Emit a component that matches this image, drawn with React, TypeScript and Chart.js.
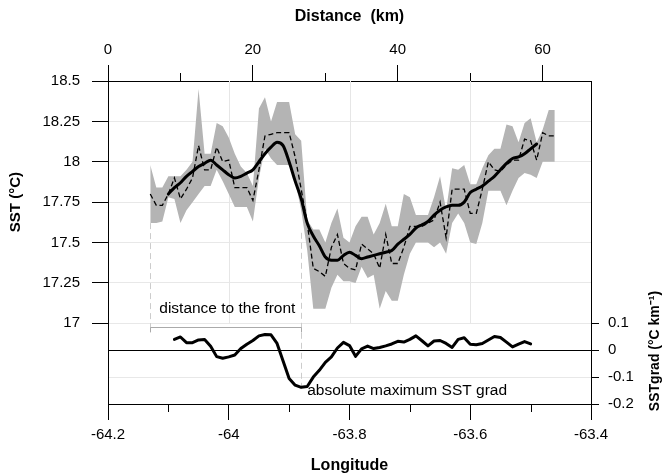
import React, { useEffect, useRef } from 'react';
import { Chart, registerables } from 'chart.js';
Chart.register(...registerables);

// Longitude of each sample
const LON = [
  -64.13, -64.12, -64.11, -64.10, -64.09, -64.08, -64.07, -64.06, -64.05, -64.04,
  -64.03, -64.02, -64.01, -64.00, -63.99, -63.98, -63.97, -63.96, -63.95, -63.94,
  -63.93, -63.92, -63.91, -63.90, -63.89, -63.88, -63.87, -63.86, -63.85, -63.84,
  -63.83, -63.82, -63.81, -63.80, -63.79, -63.78, -63.77, -63.76, -63.75, -63.74,
  -63.73, -63.72, -63.71, -63.70, -63.69, -63.68, -63.67, -63.66, -63.65, -63.64,
  -63.63, -63.62, -63.61, -63.60, -63.59, -63.58, -63.57, -63.56, -63.55, -63.54,
  -63.53, -63.52, -63.51, -63.50, -63.49, -63.48, -63.47, -63.46,
];

// SST mean (dashed line)
const SST_MEAN = [
  17.80, 17.73, 17.73, 17.80, 17.90, 17.77, 17.83, 17.90, 18.10, 17.95,
  17.95, 18.09, 18.00, 18.01, 17.84, 17.84, 17.84, 17.76, 17.95, 18.16,
  18.17, 18.18, 18.18, 18.18, 18.03, 17.83, 17.62, 17.34, 17.32, 17.29,
  17.47, 17.55, 17.37, 17.34, 17.33, 17.49, 17.46, 17.43, 17.34, 17.55,
  17.37, 17.37, 17.47, 17.60, 17.60, 17.60, 17.62, 17.64, 17.75, 17.53,
  17.83, 17.83, 17.83, 17.68, 17.68, 17.83, 18.00, 17.95, 17.94, 17.98,
  18.01, 18.01, 18.14, 18.13, 18.01, 18.18, 18.16, 18.16,
];

// SST envelope (grey band)
const SST_LOW = [
  17.62, 17.62, 17.63, 17.78, 17.77, 17.62, 17.70, 17.75, 17.80, 17.85,
  17.85, 17.95, 17.88, 17.80, 17.72, 17.72, 17.72, 17.63, 17.90, 18.08,
  18.02, 17.98, 17.98, 17.98, 17.88, 17.70, 17.45, 17.09, 17.09, 17.09,
  17.22, 17.30, 17.26, 17.26, 17.25, 17.35, 17.28, 17.30, 17.09, 17.20,
  17.14, 17.14, 17.30, 17.43, 17.50, 17.50, 17.50, 17.47, 17.50, 17.43,
  17.62, 17.68, 17.62, 17.50, 17.49, 17.62, 17.82, 17.82, 17.82, 17.73,
  17.82, 17.90, 17.93, 17.92, 17.90, 18.00, 18.00, 18.00,
];
const SST_HIGH = [
  17.98, 17.84, 17.84, 17.91, 17.91, 17.91, 17.95, 18.00, 18.45, 18.05,
  18.05, 18.24, 18.22, 18.15, 18.05, 17.97, 17.93, 17.85, 18.33, 18.40,
  18.25, 18.37, 18.37, 18.37, 18.17, 18.13, 17.64, 17.58, 17.58, 17.50,
  17.62, 17.71, 17.53, 17.50, 17.60, 17.66, 17.66, 17.55, 17.62, 17.74,
  17.60, 17.60, 17.80, 17.78, 17.67, 17.67, 17.67, 17.78, 17.91, 17.70,
  17.96, 17.95, 17.98, 17.86, 17.86, 17.96, 18.04, 18.08, 18.08, 18.23,
  18.22, 18.12, 18.24, 18.27, 18.12, 18.20, 18.32, 18.32,
];

// Smoothed SST (thick line)
const SST_SMOOTH = [
  null, null, null, 17.80, 17.84, 17.87, 17.91, 17.94, 17.97, 17.99,
  18.01, 17.98, 17.95, 17.92, 17.90, 17.91, 17.93, 17.95, 18.00, 18.05,
  18.09, 18.12, 18.10, 18.00, 17.88, 17.77, 17.62, 17.54, 17.48, 17.41,
  17.39, 17.39, 17.42, 17.44, 17.42, 17.40, 17.41, 17.42, 17.43, 17.44,
  17.45, 17.49, 17.52, 17.55, 17.59, 17.61, 17.63, 17.67, 17.70, 17.72,
  17.73, 17.73, 17.75, 17.81, 17.83, 17.85, 17.88, 17.91, 17.95, 17.99,
  18.02, 18.03, 18.05, 18.08, 18.11, null, null, null,
];

// SST gradient (lower panel)
const SST_GRAD = [
  null, null, null, null, 0.040, 0.049, 0.028, 0.028, 0.038, 0.040,
  0.015, -0.024, -0.030, -0.025, -0.018, 0.006, 0.022, 0.036, 0.053, 0.058,
  0.057, 0.025, -0.040, -0.105, -0.130, -0.138, -0.135, -0.100, -0.075, -0.045,
  -0.025, 0.008, 0.029, 0.017, -0.023, 0.005, 0.015, 0.006, 0.010, 0.016,
  0.023, 0.033, 0.030, 0.040, 0.053, 0.035, 0.016, 0.034, 0.036, 0.025,
  0.010, 0.040, 0.046, 0.022, 0.020, 0.025, 0.038, 0.051, 0.047, 0.030,
  0.012, 0.022, 0.032, 0.023, null, null, null, null,
];

const LON_MAJOR = [-64.2, -64, -63.8, -63.6, -63.4];
const LON_MINOR = [-64.1, -63.9, -63.7, -63.5];
const DIST_MAJOR = [0, 20, 40, 60];
const DIST_MINOR = [10, 30, 50];
const SST_TICKS = [17, 17.25, 17.5, 17.75, 18, 18.25, 18.5];
const GRAD_TICKS = [-0.2, -0.1, 0, 0.1];

const LON_MIN = -64.2, LON_MAX = -63.4;
const DIST_MIN = 0, DIST_MAX = 66.7;
const SST_MIN = 16.5, SST_MAX = 18.5;
const GRAD_MIN = -0.2, GRAD_MAX = 1.0;

const START_LON = -64.13;
const FRONT_LON = -63.88;
const START_SST = 17.62;
const FRONT_SST = 17.56;
const BRACKET_GRAD = 0.085;
const BRACKET_END_GRAD = 0.066;
const FRONT_MIN_GRAD = -0.148;

const FONT = '"Liberation Sans", Arial, sans-serif';

const pts = (arr: (number | null)[]) => LON.map((x, i) => ({ x, y: arr[i] }));

const overlay = {
  id: 'overlay',
  beforeDatasetsDraw(chart: any) {
    const { ctx, chartArea: a, scales } = chart;
    const x = scales.x, y = scales.y, y2 = scales.y2;
    const line = (x1: number, y1: number, x2: number, y2p: number) => {
      ctx.beginPath(); ctx.moveTo(x1, y1); ctx.lineTo(x2, y2p); ctx.stroke();
    };
    ctx.save();
    ctx.lineWidth = 1;
    ctx.strokeStyle = '#e6e6e6';
    const yb = y.getPixelForValue(17);
    LON_MAJOR.slice(1, -1).forEach((v) => {
      const px = Math.round(x.getPixelForValue(v)) + 0.5;
      line(px, a.top, px, yb);
    });
    // annotation: distance to the front
    ctx.strokeStyle = '#cccccc';
    ctx.setLineDash([6, 4]);
    const xs = Math.round(x.getPixelForValue(START_LON)) + 0.5;
    const xf = Math.round(x.getPixelForValue(FRONT_LON)) + 0.5;
    line(xs, y.getPixelForValue(START_SST), xs, y2.getPixelForValue(BRACKET_END_GRAD));
    line(xf, y.getPixelForValue(FRONT_SST), xf, y2.getPixelForValue(FRONT_MIN_GRAD));
    ctx.setLineDash([]);
    ctx.strokeStyle = '#aaaaaa';
    const yBr = Math.round(y2.getPixelForValue(BRACKET_GRAD)) + 0.5;
    const yBe = y2.getPixelForValue(BRACKET_END_GRAD);
    line(xs, yBr, xf, yBr);
    line(xs, yBr, xs, yBe);
    line(xf, yBr, xf, yBe);
    ctx.restore();
  },
  afterDraw(chart: any) {
    const { ctx, chartArea: a, scales } = chart;
    const x = scales.x, x2 = scales.x2, y = scales.y, y2 = scales.y2;
    ctx.save();
    ctx.strokeStyle = '#000';
    ctx.lineWidth = 1;
    LON_MINOR.forEach((v) => {
      const px = Math.round(x.getPixelForValue(v)) + 0.5;
      ctx.beginPath(); ctx.moveTo(px, a.bottom); ctx.lineTo(px, a.bottom + 8); ctx.stroke();
    });
    DIST_MINOR.forEach((v) => {
      const px = Math.round(x2.getPixelForValue(v)) + 0.5;
      ctx.beginPath(); ctx.moveTo(px, a.top); ctx.lineTo(px, a.top - 8); ctx.stroke();
    });
    ctx.fillStyle = '#000';
    // annotation texts
    ctx.font = '15.5px ' + FONT;
    ctx.textAlign = 'left';
    ctx.textBaseline = 'middle';
    ctx.fillText('distance to the front', x.getPixelForValue(START_LON) + 9, y2.getPixelForValue(BRACKET_GRAD) - 19);
    ctx.fillText('absolute maximum SST grad', x.getPixelForValue(FRONT_LON) + 6, y2.getPixelForValue(FRONT_MIN_GRAD) + 1);
    // axis titles
    ctx.font = 'bold 16px ' + FONT;
    ctx.textAlign = 'center';
    const cx = (a.left + a.right) / 2;
    ctx.fillText('Distance  (km)', cx, 17);
    ctx.fillText('Longitude', cx, 466);
    ctx.font = 'bold 15px ' + FONT;
    ctx.save();
    ctx.translate(16, (y.getPixelForValue(17) + y.getPixelForValue(18.5)) / 2);
    ctx.rotate(-Math.PI / 2);
    ctx.fillText('SST (°C)', 0, 0);
    ctx.restore();
    ctx.font = 'bold 14px ' + FONT;
    ctx.save();
    ctx.translate(655, 351);
    ctx.rotate(-Math.PI / 2);
    ctx.fillText('SSTgrad (°C km⁻¹)', 0, 0);
    ctx.restore();
    ctx.restore();
  },
};

export default function App() {
  const ref = useRef<HTMLCanvasElement>(null);
  useEffect(() => {
    Chart.defaults.font.family = FONT;
    Chart.defaults.font.size = 15;
    Chart.defaults.color = '#000';
    const chart = new Chart(ref.current as HTMLCanvasElement, {
      type: 'line',
      data: {
        datasets: [
          { data: pts(SST_LOW), yAxisID: 'y', xAxisID: 'x', borderWidth: 0, pointRadius: 0, fill: false, order: 5, borderColor: 'rgba(0,0,0,0)' },
          { data: pts(SST_HIGH), yAxisID: 'y', xAxisID: 'x', borderWidth: 0, pointRadius: 0, fill: '-1', backgroundColor: '#b4b4b4', order: 5, borderColor: 'rgba(0,0,0,0)' },
          { data: pts(SST_MEAN), yAxisID: 'y', xAxisID: 'x', borderWidth: 1.3, borderDash: [5, 3], borderColor: '#000', pointRadius: 0, fill: false, order: 3 },
          { data: pts(SST_SMOOTH), yAxisID: 'y', xAxisID: 'x', borderWidth: 3, borderColor: '#000', pointRadius: 0, fill: false, order: 1, borderJoinStyle: 'round', borderCapStyle: 'round', cubicInterpolationMode: 'monotone' },
          { data: pts(SST_GRAD), yAxisID: 'y2', xAxisID: 'x', borderWidth: 3, borderColor: '#000', pointRadius: 0, fill: false, order: 1, borderJoinStyle: 'round', borderCapStyle: 'round' },
        ],
      } as any,
      options: {
        responsive: false,
        animation: false,
        events: [],
        layout: { padding: 0 },
        plugins: { legend: { display: false }, tooltip: { enabled: false }, title: { display: false } },
        scales: {
          x: {
            type: 'linear', position: 'bottom', min: LON_MIN, max: LON_MAX,
            afterBuildTicks: (s: any) => { s.ticks = LON_MAJOR.map((v) => ({ value: v })); },
            afterFit: (s: any) => { s.height = 71; },
            grid: { display: true, drawOnChartArea: false, drawTicks: true, tickLength: 16, tickColor: '#000' },
            border: { display: true, color: '#000', width: 1 },
            ticks: { padding: 6, maxRotation: 0, autoSkip: false, callback: (v: any) => String(v) },
          },
          x2: {
            type: 'linear', position: 'top', min: DIST_MIN, max: DIST_MAX,
            afterBuildTicks: (s: any) => { s.ticks = DIST_MAJOR.map((v) => ({ value: v })); },
            afterFit: (s: any) => { s.height = 81; },
            grid: { display: true, drawOnChartArea: false, drawTicks: true, tickLength: 16, tickColor: '#000' },
            border: { display: true, color: '#000', width: 1 },
            ticks: { padding: 6, maxRotation: 0, autoSkip: false, callback: (v: any) => String(v) },
          },
          y: {
            type: 'linear', position: 'left', min: SST_MIN, max: SST_MAX,
            afterBuildTicks: (s: any) => { s.ticks = SST_TICKS.map((v) => ({ value: v })); },
            afterFit: (s: any) => { s.width = 108; },
            grid: { display: true, drawOnChartArea: true, color: '#e8e8e8', drawTicks: true, tickLength: 16, tickColor: '#000' },
            border: { display: true, color: '#000', width: 1 },
            ticks: { padding: 12, autoSkip: false, callback: (v: any) => String(v) },
          },
          y2: {
            type: 'linear', position: 'right', min: GRAD_MIN, max: GRAD_MAX,
            afterBuildTicks: (s: any) => { s.ticks = GRAD_TICKS.map((v) => ({ value: v })); },
            afterFit: (s: any) => { s.width = 77; },
            grid: {
              display: true, drawOnChartArea: true, drawTicks: true, tickLength: 8, tickColor: '#000',
              color: (c: any) => (c.tick && c.tick.value === 0 ? '#000' : '#e8e8e8'),
            },
            border: { display: true, color: '#000', width: 1 },
            ticks: { padding: 9, autoSkip: false, callback: (v: any) => String(v) },
          },
        },
      } as any,
      plugins: [overlay],
    });
    return () => chart.destroy();
  }, []);
  return (
    <div style={{ position: 'fixed', left: 0, top: 0, width: 668, height: 475, background: '#fff' }}>
      <canvas ref={ref} width={668} height={475} style={{ width: 668, height: 475, display: 'block' }} />
    </div>
  );
}
